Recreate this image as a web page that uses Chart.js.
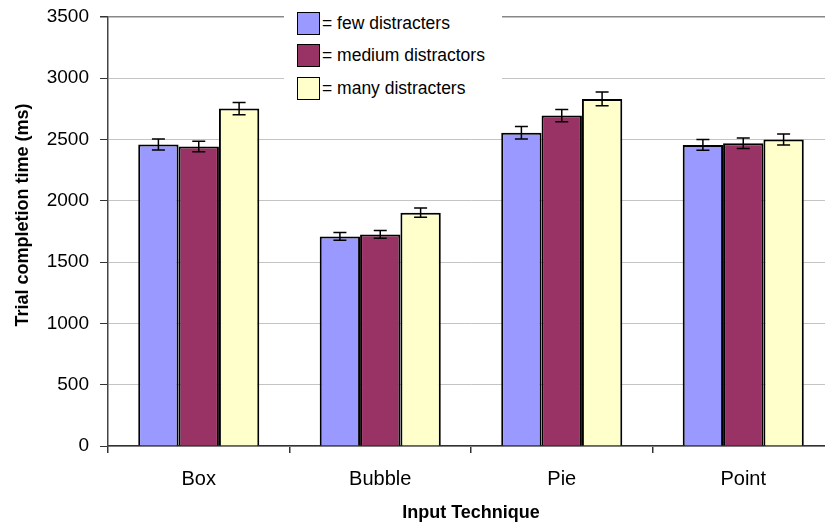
<!DOCTYPE html>
<html>
<head>
<meta charset="utf-8">
<script src="https://cdn.jsdelivr.net/npm/chart.js@4/dist/chart.umd.min.js"></script>
<style>
  html, body { margin: 0; padding: 0; background: #fff; overflow: hidden; }
  #wrap { position: relative; width: 834px; height: 531px; }
  #legend {
    position: absolute; left: 284px; top: 0; width: 218px; height: 104px;
    background: #fff; font-family: Arial, "Liberation Sans", sans-serif; font-size: 17.5px; color: #000;
  }
  .row { position: absolute; left: 13px; height: 24px; display: flex; align-items: center; }
  .box { width: 21px; height: 21px; border: 1.5px solid #000; margin-right: 2px; }
</style>
</head>
<body>
<div id="wrap">
  <canvas id="grafiek" width="834" height="531"></canvas>
  <div id="legend"></div>
</div>
<script>
const categories = ['Box', 'Bubble', 'Pie', 'Point'];
const seriesNames = ['= few distracters', '= medium distractors', '= many distracters'];
const few = [2458, 1709, 2553, 2455];
const medium = [2442, 1725, 2694, 2469];
const many = [2751, 1902, 2830, 2499];
const fewErr = [45, 31, 51, 43];
const mediumErr = [43, 31, 50, 43];
const manyErr = [50, 38, 57, 45];
const kleuren = ['#9999ff', '#993366', '#ffffcc'];

const font = 'Arial, "Liberation Sans", sans-serif';
const fouten = [fewErr, mediumErr, manyErr];

// foutbalken tekenen via de schalen
const foutbalkPlugin = {
    id: 'foutbalken',
    afterDatasetsDraw(chart) {
        const ctx = chart.ctx;
        const y = chart.scales.y;
        ctx.save();
        ctx.strokeStyle = '#000';
        ctx.lineWidth = 1.5;
        chart.data.datasets.forEach((ds, i) => {
            chart.getDatasetMeta(i).data.forEach((bar, j) => {
                const v = ds.data[j], e = fouten[i][j];
                const top = y.getPixelForValue(v + e);
                const bot = y.getPixelForValue(v - e);
                ctx.beginPath();
                ctx.moveTo(bar.x, top); ctx.lineTo(bar.x, bot);
                ctx.moveTo(bar.x - 6.5, top); ctx.lineTo(bar.x + 6.5, top);
                ctx.moveTo(bar.x - 6.5, bot); ctx.lineTo(bar.x + 6.5, bot);
                ctx.stroke();
            });
        });
        ctx.restore();
    }
};

// y-as titel iets boven het midden, zoals in het origineel
const yTitelPlugin = {
    id: 'ytitel',
    afterDraw(chart) {
        const ctx = chart.ctx;
        ctx.save();
        ctx.translate(23, 215);
        ctx.rotate(-Math.PI / 2);
        ctx.font = 'bold 18px ' + font;
        ctx.fillStyle = '#000';
        ctx.textAlign = 'center';
        ctx.textBaseline = 'middle';
        ctx.fillText('Trial completion time (ms)', 0, 0);
        ctx.restore();
    }
};

const ctx = document.getElementById('grafiek').getContext('2d');
new Chart(ctx, {
    type: 'bar',
    data: {
        labels: categories,
        datasets: [few, medium, many].map((d, i) => ({
            label: seriesNames[i],
            data: d,
            backgroundColor: kleuren[i],
            borderColor: '#000',
            borderWidth: 2,
            categoryPercentage: 0.667,
            barPercentage: 1.0
        }))
    },
    options: {
        responsive: false,
        animation: false,
        devicePixelRatio: 1,
        layout: { padding: { top: 0, left: 0, right: 0, bottom: 0 } },
        plugins: { legend: { display: false }, tooltip: { enabled: false } },
        scales: {
            x: {
                grid: { drawOnChartArea: false, tickLength: 7, tickColor: '#333', lineWidth: 1.5 },
                border: { color: '#333', width: 1.5 },
                ticks: { color: '#000', font: { family: font, size: 20 }, padding: 14 },
                title: {
                    display: true, text: 'Input Technique', color: '#000',
                    font: { family: font, size: 18, weight: 'bold' },
                    padding: { top: 4, bottom: 7 }
                },
                afterFit(scale) { scale.height = 85; }
            },
            y: {
                min: 0, max: 3500,
                ticks: {
                    stepSize: 500, color: '#000', font: { family: font, size: 19, lineHeight: 0.6 }, padding: 11,
                    callback: v => String(v)
                },
                grid: {
                    color: c => c.tick && c.tick.value === 3500 ? '#888' : '#c4c4c4',
                    lineWidth: c => c.tick && c.tick.value === 3500 ? 1.5 : 1,
                    tickLength: 8, tickColor: '#333'
                },
                border: { color: '#444', width: 1.5 },
                afterFit(scale) { scale.width = 108; }
            }
        }
    },
    plugins: [foutbalkPlugin, yTitelPlugin]
});

// legenda als html
const legenda = document.getElementById('legend');
seriesNames.forEach((naam, i) => {
    const rij = document.createElement('div');
    rij.className = 'row';
    rij.style.top = (11 + i * 32.5) + 'px';
    rij.innerHTML = '<div class="box" style="background:' + kleuren[i] + '"></div><span>' + naam + '</span>';
    legenda.appendChild(rij);
});
</script>
</body>
</html>
